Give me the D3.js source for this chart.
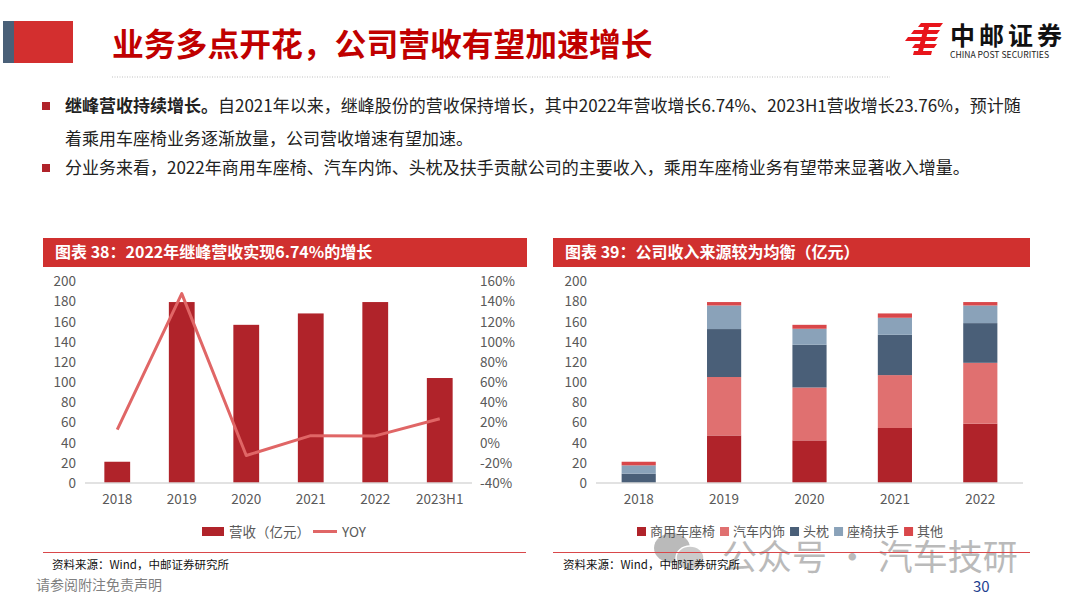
<!DOCTYPE html>
<html><head><meta charset="utf-8">
<script src="https://cdn.jsdelivr.net/npm/d3@7"></script>
<style>
html,body{margin:0;padding:0;background:#fff;}
svg{display:block;}
text{font-family:"Noto Sans CJK SC","Noto Sans",sans-serif;}
</style></head>
<body>
<svg id="c" width="1080" height="608"></svg>
<script>
// ---------- data ----------
const years1 = ["2018","2019","2020","2021","2022","2023H1"];
const revenue = [21.1, 179.6, 157.0, 168.3, 179.6, 104.2];      // 营收（亿元）
const yoy = [13, 148, -12.7, 7, 6.74, 23.76];                    // YOY %
const leftTicks = [0,20,40,60,80,100,120,140,160,180,200];
const rightTicks = [-40,-20,0,20,40,60,80,100,120,140,160];

const years2 = ["2018","2019","2020","2021","2022"];
const segNames = ["商用车座椅","汽车内饰","头枕","座椅扶手","其他"];
const commercialSeat = [0, 47.2, 42.3, 54.6, 58.8];
const interior = [0, 58.0, 52.5, 52.5, 60.5];
const headrest = [9.2, 47.6, 42.4, 40.0, 39.4];
const armrest = [8.3, 23.4, 15.9, 16.9, 17.5];
const others = [3.6, 3.4, 3.9, 4.3, 3.4];
const segColors = ["#b0232a","#e07070","#4a5f78","#8aa2b9","#d9474a"];

const svg = d3.select("#c");
const textGray = "#595959";

// ---------- page header ----------
svg.append("rect").attr("x",3).attr("y",21).attr("width",11).attr("height",42).attr("fill","#4a6078");
svg.append("rect").attr("x",14).attr("y",21).attr("width",59).attr("height",42).attr("fill","#d32f2f");
svg.append("text").attr("x",112).attr("y",56).attr("font-size",31.8).attr("font-weight","bold")
  .attr("fill","#c00000").text("业务多点开花，公司营收有望加速增长");
svg.append("line").attr("x1",112).attr("x2",890).attr("y1",77).attr("y2",77)
  .attr("stroke","#bfbfbf").attr("stroke-width",1).attr("stroke-dasharray","1,1.5");

// logo
const logo = svg.append("g").attr("fill","#e8151b");
[[918,23,22],[911,30,26],[905,37,30],[912,44,22]].forEach(([x,y,w])=>{
  logo.append("path").attr("d",`M${x+3},${y} L${x+w+3},${y} L${x+w},${y+4} L${x},${y+4} Z`);
});
logo.append("path").attr("d","M924,27 L929,27 L922,55 L917,55 Z");
logo.append("path").attr("d","M914,51 L932,51 L931,55 L913,55 Z");
svg.append("text").attr("x",950).attr("y",45).attr("font-size",25).attr("font-weight","bold")
  .attr("fill","#111").attr("letter-spacing",4).text("中邮证券");
svg.append("text").attr("x",950).attr("y",58).attr("font-size",8.6).attr("fill","#222")
  .attr("font-family","Liberation Sans, Arial").text("CHINA POST SECURITIES");

// bullets
svg.append("rect").attr("x",42).attr("y",102).attr("width",8).attr("height",8).attr("fill","#b0232a");
svg.append("rect").attr("x",42).attr("y",164).attr("width",8).attr("height",8).attr("fill","#b0232a");
const t1 = svg.append("text").attr("x",65).attr("y",112).attr("font-size",17).attr("fill","#222");
t1.append("tspan").attr("font-weight","bold").text("继峰营收持续增长。");
t1.append("tspan").text("自2021年以来，继峰股份的营收保持增长，其中2022年营收增长6.74%、2023H1营收增长23.76%，预计随");
svg.append("text").attr("x",65).attr("y",145).attr("font-size",17).attr("fill","#222")
  .text("着乘用车座椅业务逐渐放量，公司营收增速有望加速。");
svg.append("text").attr("x",65).attr("y",174).attr("font-size",17).attr("fill","#222")
  .text("分业务来看，2022年商用车座椅、汽车内饰、头枕及扶手贡献公司的主要收入，乘用车座椅业务有望带来显著收入增量。");

// ---------- chart panels common ----------
function panelHeader(x, w, label){
  svg.append("rect").attr("x",x).attr("y",238).attr("width",w).attr("height",29).attr("fill","#d0302f");
  svg.append("text").attr("x",x+12).attr("y",258).attr("font-size",16).attr("font-weight","bold")
    .attr("fill","#fff").text(label);
}
panelHeader(43, 484, "图表 38：2022年继峰营收实现6.74%的增长");
panelHeader(553, 477, "图表 39：公司收入来源较为均衡（亿元）");

function styleAxis(g){
  g.select(".domain").remove();
  g.selectAll("text").attr("font-size",13.5).attr("fill",textGray)
    .attr("font-family","'Open Sans','Noto Sans CJK SC',sans-serif");
}

// ---------- left chart ----------
const xL = d3.scaleBand().domain(years1).range([85,472]).paddingInner(0.6).paddingOuter(0.3);
const yL = d3.scaleLinear().domain([0,200]).range([483,281.5]);
const yR = d3.scaleLinear().domain([-40,160]).range([483,281.5]);

svg.append("g").selectAll("rect").data(years1).join("rect")
  .attr("x",d=>xL(d)).attr("width",xL.bandwidth())
  .attr("y",(d,i)=>yL(revenue[i])).attr("height",(d,i)=>yL(0)-yL(revenue[i]))
  .attr("fill","#b0232a");

svg.append("line").attr("x1",85).attr("x2",472).attr("y1",yL(0)).attr("y2",yL(0))
  .attr("stroke","#d9d9d9").attr("stroke-width",1.5);

svg.append("path").datum(years1)
  .attr("d",d3.line().x(d=>xL(d)+xL.bandwidth()/2).y((d,i)=>yR(yoy[i])))
  .attr("fill","none").attr("stroke","#e06666").attr("stroke-width",3).attr("stroke-linejoin","round");

svg.append("g").attr("transform","translate(85,0)")
  .call(d3.axisLeft(yL).tickValues(leftTicks).tickSize(0).tickPadding(9)).call(styleAxis);
svg.append("g").attr("transform","translate(472,0)")
  .call(d3.axisRight(yR).tickValues(rightTicks).tickSize(0).tickPadding(8).tickFormat(d=>d+"%")).call(styleAxis);
svg.append("g").attr("transform",`translate(0,${yL(0)})`)
  .call(d3.axisBottom(xL).tickSize(0).tickPadding(11)).call(styleAxis);

// left legend
svg.append("rect").attr("x",202).attr("y",527).attr("width",22).attr("height",9).attr("fill","#b0232a");
svg.append("text").attr("x",229).attr("y",536.5).attr("font-size",13.5).attr("fill",textGray).text("营收（亿元）");
svg.append("line").attr("x1",313).attr("x2",337).attr("y1",531.5).attr("y2",531.5).attr("stroke","#e06666").attr("stroke-width",3);
svg.append("text").attr("x",342).attr("y",536.5).attr("font-size",13.5).attr("fill",textGray)
  .attr("font-family","'Open Sans',sans-serif").text("YOY");

// ---------- right chart ----------
const x2 = d3.scaleBand().domain(years2).range([596,1023]).paddingInner(0.6).paddingOuter(0.3);
const y2 = d3.scaleLinear().domain([0,200]).range([483,281.5]);
const segData = [commercialSeat, interior, headrest, armrest, others];
const rows = years2.map((y,i)=>{const o={year:y}; segNames.forEach((n,k)=>o[n]=segData[k][i]); return o;});
const stacked = d3.stack().keys(segNames)(rows);

svg.append("g").selectAll("g").data(stacked).join("g")
  .attr("fill",(d,i)=>segColors[i])
  .selectAll("rect").data(d=>d).join("rect")
  .attr("x",d=>x2(d.data.year)).attr("width",x2.bandwidth())
  .attr("y",d=>y2(d[1])).attr("height",d=>Math.max(0,y2(d[0])-y2(d[1])));

svg.append("line").attr("x1",596).attr("x2",1023).attr("y1",y2(0)).attr("y2",y2(0))
  .attr("stroke","#d9d9d9").attr("stroke-width",1.5);
svg.append("g").attr("transform","translate(596,0)")
  .call(d3.axisLeft(y2).tickValues(leftTicks).tickSize(0).tickPadding(9)).call(styleAxis);
svg.append("g").attr("transform",`translate(0,${y2(0)})`)
  .call(d3.axisBottom(x2).tickSize(0).tickPadding(11)).call(styleAxis);

// ---------- watermark (drawn under legend) ----------
const wm = svg.append("g").attr("opacity",0.5);
wm.append("ellipse").attr("cx",672).attr("cy",548).attr("rx",18).attr("ry",15).attr("fill","#777");
wm.append("ellipse").attr("cx",690).attr("cy",558).attr("rx",14).attr("ry",12).attr("fill","#999").attr("stroke","#fff").attr("stroke-width",1.5);
wm.append("text").attr("x",722).attr("y",570).attr("font-size",35).attr("fill","#777").text("公众号 · 汽车技研");

// right legend
const lg = svg.append("g");
let lx = 637;
segNames.forEach((n,i)=>{
  lg.append("rect").attr("x",lx).attr("y",527).attr("width",9).attr("height",9).attr("fill",segColors[i]);
  const t = lg.append("text").attr("x",lx+13).attr("y",536).attr("font-size",13).attr("fill",textGray).text(n);
  lx += 13 + t.node().getComputedTextLength() + 5;
});

// ---------- footers ----------
[[43,526,52],[553,1030,563]].forEach(([a,b,tx])=>{
  svg.append("line").attr("x1",a).attr("x2",b).attr("y1",552.5).attr("y2",552.5).attr("stroke","#d9474a").attr("stroke-width",1);
  svg.append("text").attr("x",tx).attr("y",569).attr("font-size",11.5).attr("fill","#111").text("资料来源：Wind，中邮证券研究所");
});
svg.append("text").attr("x",36).attr("y",590).attr("font-size",14).attr("fill","#7f7f7f").text("请参阅附注免责声明");
svg.append("text").attr("x",973).attr("y",592).attr("font-size",15).attr("fill","#1f3f8f")
  .attr("font-family","'Open Sans',sans-serif").text("30");
</script>
</body></html>
